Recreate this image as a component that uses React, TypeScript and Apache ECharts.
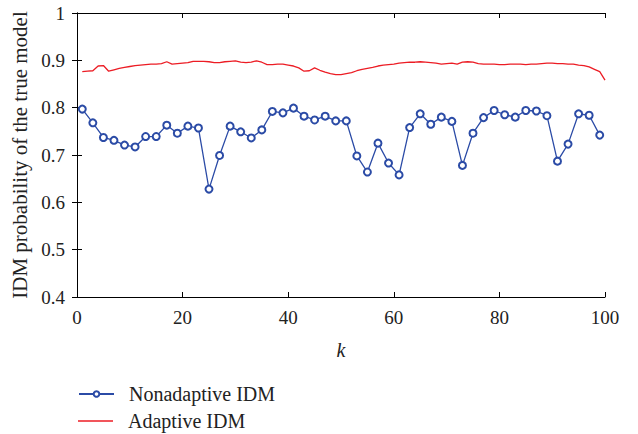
import React, { useEffect, useRef } from "react";
import * as echarts from "echarts";

const nonadaptiveK = [1,3,5,7,9,11,13,15,17,19,21,23,25,27,29,31,33,35,37,39,41,43,45,47,49,51,53,55,57,59,61,63,65,67,69,71,73,75,77,79,81,83,85,87,89,91,93,95,97,99];
const nonadaptiveValues = [0.797,0.768,0.737,0.731,0.721,0.717,0.739,0.739,0.763,0.746,0.761,0.757,0.628,0.699,0.761,0.749,0.736,0.753,0.792,0.789,0.799,0.782,0.774,0.782,0.772,0.772,0.698,0.664,0.725,0.683,0.658,0.758,0.787,0.765,0.780,0.771,0.678,0.746,0.779,0.794,0.785,0.780,0.794,0.793,0.783,0.687,0.723,0.787,0.784,0.742];

const adaptiveValues = [
  0.876,0.877,0.878,0.888,0.889,0.877,0.880,0.883,0.885,0.887,
  0.889,0.890,0.891,0.892,0.892,0.893,0.897,0.892,0.893,0.894,
  0.895,0.898,0.898,0.898,0.897,0.895,0.895,0.897,0.898,0.899,
  0.896,0.895,0.896,0.899,0.896,0.891,0.891,0.892,0.892,0.890,
  0.888,0.884,0.877,0.878,0.884,0.879,0.875,0.872,0.870,0.870,
  0.872,0.874,0.878,0.881,0.883,0.885,0.888,0.890,0.891,0.892,
  0.894,0.895,0.896,0.896,0.897,0.896,0.895,0.894,0.892,0.893,
  0.894,0.892,0.896,0.897,0.896,0.893,0.892,0.892,0.892,0.891,
  0.891,0.892,0.892,0.892,0.891,0.892,0.892,0.893,0.894,0.894,
  0.893,0.893,0.892,0.892,0.890,0.889,0.886,0.881,0.876,0.858
];

const xTicks = [0, 20, 40, 60, 80, 100];
const yTicks = [0.4, 0.5, 0.6, 0.7, 0.8, 0.9, 1];

const FONT = "'Liberation Serif', 'DejaVu Serif', serif";

export default function App() {
  const ref = useRef<HTMLDivElement>(null);
  useEffect(() => {
    if (!ref.current) return;
    const chart = echarts.init(ref.current, null, { renderer: "svg" });
    const blue = "#2b4ba6";
    const red = "#ec1c24";
    const axisLine = { show: true, lineStyle: { color: "#000", width: 1 } };
    const tickInside = { show: true, inside: true, length: 5, lineStyle: { color: "#000" } };
    const legendText = { fontFamily: FONT, fontSize: 20, color: "#222", padding: [0, 0, 0, 10] };
    chart.setOption({
      animation: false,
      grid: { left: 77, right: 33, top: 13, bottom: 137, containLabel: false },
      legend: [
        {
          orient: "vertical",
          left: 78,
          top: 384,
          padding: 0,
          itemWidth: 35,
          itemHeight: 7,
          textStyle: legendText,
          data: ["Nonadaptive IDM"],
        },
        {
          orient: "vertical",
          left: 78,
          top: 411,
          padding: 0,
          itemWidth: 35,
          itemHeight: 1.5,
          textStyle: legendText,
          data: [{ name: "Adaptive IDM", icon: "rect" }],
        },
      ],
      xAxis: [
        {
          type: "value",
          min: xTicks[0],
          max: xTicks[xTicks.length - 1],
          interval: 20,
          axisLine,
          axisTick: tickInside,
          splitLine: { show: false },
          axisLabel: { fontFamily: FONT, fontSize: 19, color: "#222", margin: 11 },
          name: "k",
          nameLocation: "middle",
          nameGap: 43,
          nameTextStyle: { fontFamily: FONT, fontSize: 20, fontStyle: "italic", color: "#222" },
        },
        {
          type: "value",
          position: "top",
          min: xTicks[0],
          max: xTicks[xTicks.length - 1],
          interval: 20,
          axisLine,
          axisTick: tickInside,
          splitLine: { show: false },
          axisLabel: { show: false },
        },
      ],
      yAxis: [
        {
          type: "value",
          min: yTicks[0],
          max: yTicks[yTicks.length - 1],
          interval: 0.1,
          axisLine,
          axisTick: tickInside,
          splitLine: { show: false },
          axisLabel: {
            fontFamily: FONT, fontSize: 19, color: "#222", margin: 12,
            formatter: (v: number) => (Math.abs(v - 1) < 1e-9 ? "1" : v.toFixed(1)),
          },
          name: "IDM probability of the true model",
          nameLocation: "middle",
          nameGap: 45,
          nameTextStyle: { fontFamily: FONT, fontSize: 21, color: "#222" },
        },
        {
          type: "value",
          position: "right",
          min: yTicks[0],
          max: yTicks[yTicks.length - 1],
          interval: 0.1,
          axisLine,
          axisTick: tickInside,
          splitLine: { show: false },
          axisLabel: { show: false },
        },
      ],
      series: [
        {
          name: "Nonadaptive IDM",
          type: "line",
          data: nonadaptiveK.map((k, i) => [k, nonadaptiveValues[i]]),
          symbol: "emptyCircle",
          symbolSize: 7,
          lineStyle: { color: blue, width: 1.3 },
          itemStyle: { color: blue, borderWidth: 1.2 },
        },
        {
          name: "Adaptive IDM",
          type: "line",
          data: adaptiveValues.map((v, i) => [i + 1, v]),
          showSymbol: false,
          symbol: "none",
          lineStyle: { color: red, width: 1.3 },
          itemStyle: { color: red },
        },
      ],
    });
    return () => chart.dispose();
  }, []);
  return <div ref={ref} style={{ position: "absolute", left: 0, top: 0, width: 638, height: 434 }} />;
}
